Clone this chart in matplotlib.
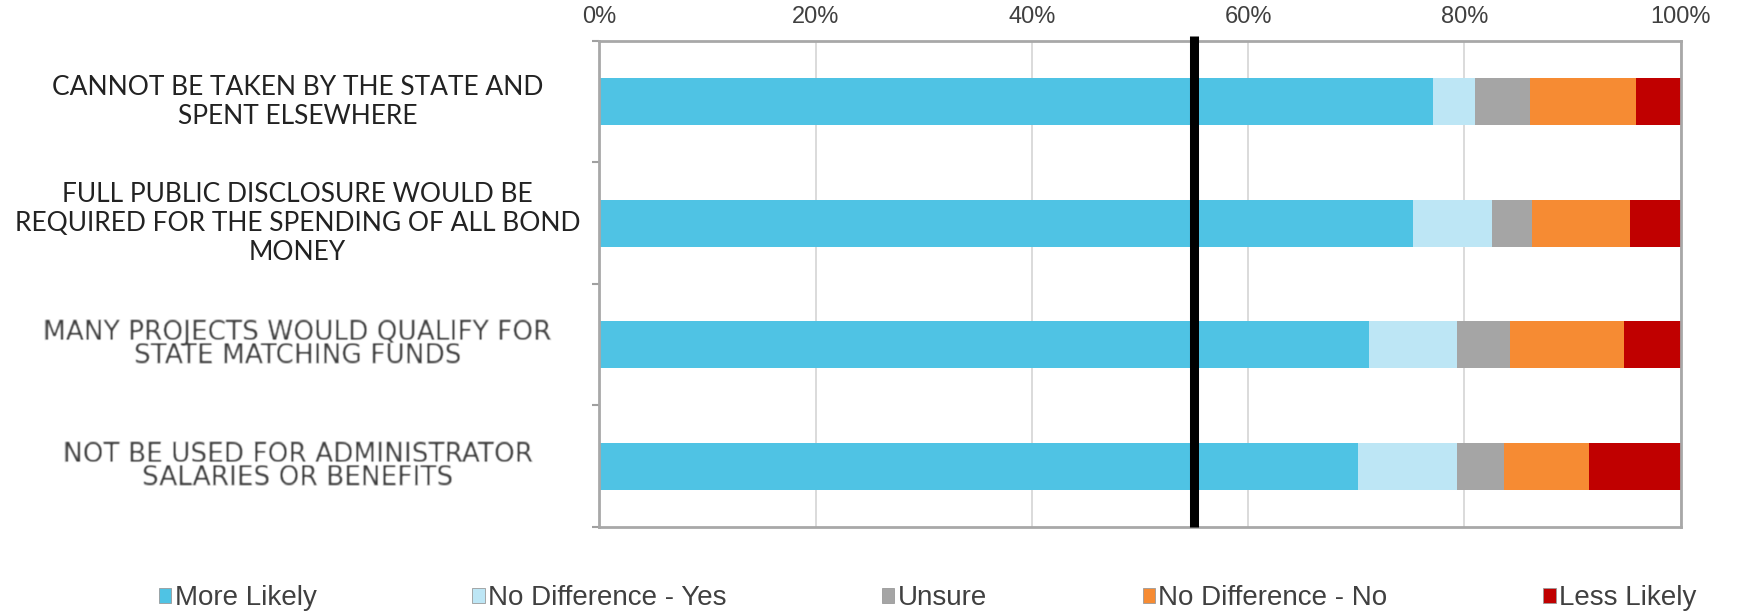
import numpy as np
import matplotlib
matplotlib.use('Agg')
import matplotlib.pyplot as plt
from matplotlib.patches import Patch

categories = [
    'CANNOT BE TAKEN BY THE STATE AND\nSPENT ELSEWHERE',
    'FULL PUBLIC DISCLOSURE WOULD BE\nREQUIRED FOR THE SPENDING OF ALL BOND\nMONEY',
    'MANY PROJECTS WOULD QUALIFY FOR\nSTATE MATCHING FUNDS',
    'NOT BE USED FOR ADMINISTRATOR\nSALARIES OR BENEFITS',
]
series_names = ['More Likely', 'No Difference - Yes', 'Unsure', 'No Difference - No', 'Less Likely']
more_likely = [77.1, 75.3, 71.2, 70.2]
nd_yes = [3.9, 7.3, 8.1, 9.1]
unsure = [5.1, 3.7, 4.9, 4.4]
nd_no = [9.8, 9.0, 10.6, 7.8]
less_likely = [4.1, 4.7, 5.2, 8.5]
marker_pct = 55
xticks = [0, 20, 40, 60, 80, 100]

colors = ['#4fc3e4', '#bde6f5', '#a5a5a5', '#f68b33', '#c00000']


def soften(im, dpi):
    # light gaussian blur for the older-style labels
    pad = 3
    a = np.pad(im, [(pad, pad), (pad, pad), (0, 0)], 'constant')
    k = np.array([1, 2, 1], float)
    k /= k.sum()
    for axis in (0, 1):
        out = np.zeros_like(a)
        for i, w in enumerate(k):
            out += w * np.roll(a, i - 1, axis=axis)
        a = out
    return a, -pad, -pad


fig = plt.figure(figsize=(17.37, 6.11), dpi=100)
ax = fig.add_axes([0.345, 0.1375, 0.6225, 0.7955])

y = np.arange(len(categories))
left = np.zeros(len(categories))
for vals, name, c in zip([more_likely, nd_yes, unsure, nd_no, less_likely], series_names, colors):
    ax.barh(y, vals, left=left, height=0.39, color=c, label=name, zorder=2)
    left += np.array(vals)

ax.set_xlim(0, 100)
ax.set_ylim(3.5, -0.5)

ax.xaxis.tick_top()
ax.set_xticks(xticks)
ax.set_xticklabels([f'{t}%' for t in xticks], family='Liberation Sans', fontsize=17, color='#404040')
ax.tick_params(axis='x', length=0, pad=9)
ax.grid(axis='x', color='#d4d4d4', linewidth=1.2, zorder=0)

ax.set_yticks([])
ax.set_yticks([-0.5, 0.5, 1.5, 2.5, 3.5], minor=True)
ax.tick_params(axis='y', which='minor', length=5, width=1.5, color='#a0a0a0')

for s in ax.spines.values():
    s.set_color('#a8a8a8')
    s.set_linewidth(2)

for i, lab in enumerate(categories):
    if i < 2:
        ax.text(-0.279, i, lab, transform=ax.get_yaxis_transform(), ha='center', va='center',
                fontsize=19, family='Lato', color='#222222', linespacing=1.2)
    else:
        t = ax.text(-0.279, i, lab, transform=ax.get_yaxis_transform(), ha='center', va='center',
                    fontsize=19, family='DejaVu Sans', color='#3c3c3c', linespacing=0.85)
        t.set_agg_filter(soften)

ax.plot([marker_pct, marker_pct], [-0.54, 3.5], color='black', linewidth=6.5,
        solid_capstyle='butt', clip_on=False, zorder=5)

handles = [Patch(facecolor=c, edgecolor='#9a9a9a', linewidth=0.6) for c in colors]
fig.legend(handles, series_names, loc='center', bbox_to_anchor=(0.534, 0.021), ncol=5,
           frameon=False, prop={'family': 'Liberation Sans', 'size': 20}, labelcolor='#404040',
           handlelength=0.45, handleheight=0.45, handletextpad=0.12, columnspacing=5.6,
           borderpad=0.1)

fig.savefig('out.png', dpi=100)
